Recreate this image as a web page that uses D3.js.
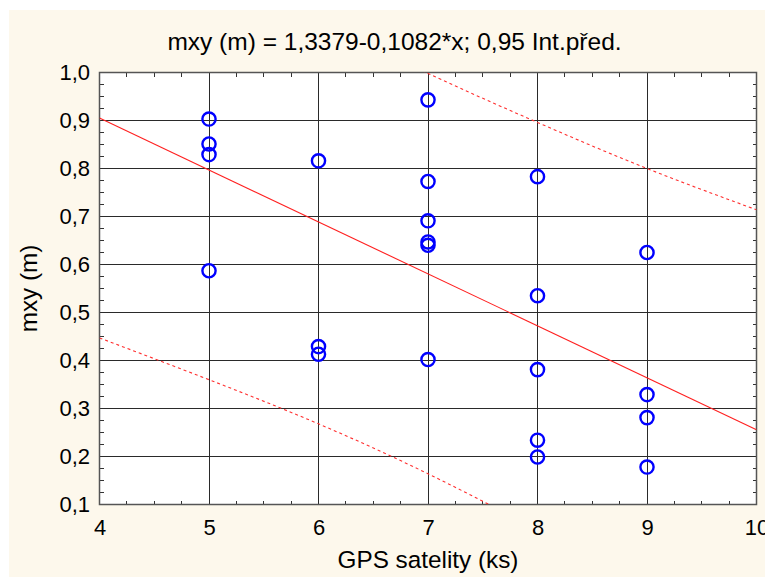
<!DOCTYPE html>
<html><head><meta charset="utf-8">
<script src="https://cdn.jsdelivr.net/npm/d3@7"></script>
<style>html,body{margin:0;padding:0;background:#fff}svg{display:block}text{font-family:"Liberation Sans",Arial,sans-serif;fill:#000}</style>
</head><body>
<script>
// Data
const satX = [5,5,5,5, 6,6,6, 7,7,7,7,7,7, 8,8,8,8,8, 9,9,9,9];
const mxyY = [0.903,0.851,0.829,0.587, 0.816,0.429,0.413, 0.943,0.773,0.691,0.647,0.640,0.402, 0.783,0.535,0.381,0.234,0.199, 0.625,0.329,0.281,0.178];
const intercept = 1.3379, slope = -0.1082;
const bandX = [4,5,6,7,8,9,10];
const bandUpper = [1.363,1.234,1.110,0.998,0.896,0.800,0.714];
const bandLower = [0.447,0.360,0.268,0.164,0.048,-0.072,-0.202];
const xTicks = [4,5,6,7,8,9,10];
const yTicks = [0.1,0.2,0.3,0.4,0.5,0.6,0.7,0.8,0.9,1.0];
const titleText = "mxy (m) = 1,3379-0,1082*x; 0,95 Int.před.";
const xTitle = "GPS satelity (ks)";
const yTitle = "mxy (m)";

const W = 765, H = 577;
const L = 99.5, R = 756.5, T = 72.5, B = 504.5;
const svg = d3.select("body").append("svg").attr("width", W).attr("height", H);
svg.append("rect").attr("width", W).attr("height", H).attr("fill", "#fff");
svg.append("rect").attr("x", 9).attr("y", 10).attr("width", W - 9).attr("height", H - 10).attr("fill", "#fdf8ec");

const x = d3.scaleLinear().domain([4, 10]).range([L, R]);
const y = d3.scaleLinear().domain([0.1, 1.0]).range([B, T]);

svg.append("rect").attr("x", L).attr("y", T).attr("width", R - L).attr("height", B - T).attr("fill", "#fff");

svg.append("defs").append("clipPath").attr("id", "clip")
  .append("rect").attr("x", L).attr("y", T).attr("width", R - L).attr("height", B - T);

// grid
const grid = svg.append("g").attr("stroke", "#2a2a2a").attr("stroke-width", 1).attr("shape-rendering", "crispEdges");
xTicks.slice(1, -1).forEach(v => grid.append("line").attr("x1", x(v)).attr("x2", x(v)).attr("y1", T).attr("y2", B));
yTicks.slice(1, -1).forEach(v => grid.append("line").attr("y1", y(v)).attr("y2", y(v)).attr("x1", L).attr("x2", R));

// minor ticks (inside, all 4 sides)
const minor = svg.append("g").attr("stroke", "#333").attr("stroke-width", 1).attr("shape-rendering", "crispEdges");
const minX = d3.range(4, 10.001, 0.25).filter(v => Math.abs(v - Math.round(v)) > 1e-6);
const minY = d3.range(0.1, 1.0001, 0.025).filter(v => Math.abs(v * 10 - Math.round(v * 10)) > 1e-6);
const tl = 4;
minX.forEach(v => {
  minor.append("line").attr("x1", x(v)).attr("x2", x(v)).attr("y1", B).attr("y2", B - tl);
  minor.append("line").attr("x1", x(v)).attr("x2", x(v)).attr("y1", T).attr("y2", T + tl);
});
minY.forEach(v => {
  minor.append("line").attr("y1", y(v)).attr("y2", y(v)).attr("x1", L).attr("x2", L + tl);
  minor.append("line").attr("y1", y(v)).attr("y2", y(v)).attr("x1", R).attr("x2", R - tl);
});

// frame
svg.append("rect").attr("x", L).attr("y", T).attr("width", R - L).attr("height", B - T)
  .attr("fill", "none").attr("stroke", "#555").attr("stroke-width", 1.5);

// lines
const plot = svg.append("g").attr("clip-path", "url(#clip)");
plot.append("line").attr("x1", x(4)).attr("y1", y(intercept + slope * 4))
  .attr("x2", x(10)).attr("y2", y(intercept + slope * 10))
  .attr("stroke", "#ff2020").attr("stroke-width", 1.1);
const band = d3.line().x((d, i) => x(bandX[i])).y(d => y(d)).curve(d3.curveNatural);
[bandUpper, bandLower].forEach(arr => plot.append("path").attr("d", band(arr))
  .attr("fill", "none").attr("stroke", "#ff3030").attr("stroke-width", 1.1).attr("stroke-dasharray", "3,3"));

// points
svg.append("g").selectAll("circle").data(satX).join("circle")
  .attr("cx", d => x(d)).attr("cy", (d, i) => y(mxyY[i])).attr("r", 6.6)
  .attr("fill", "none").attr("stroke", "#0000ff").attr("stroke-width", 2.4);

// axes labels
const fmt = v => d3.format(".1f")(v).replace(".", ",");
const ya = svg.append("g").attr("transform", `translate(${L},0)`)
  .call(d3.axisLeft(y).tickValues(yTicks).tickFormat(fmt).tickSize(0).tickPadding(9.5));
const xa = svg.append("g").attr("transform", `translate(0,${B})`)
  .call(d3.axisBottom(x).tickValues(xTicks).tickFormat(d3.format("d")).tickSize(0).tickPadding(15));
[ya, xa].forEach(g => {
  g.select(".domain").remove();
  g.selectAll("text").attr("font-size", 22).attr("font-family", "Liberation Sans, Arial, sans-serif").attr("fill", "#000");
});

svg.append("text").attr("x", 394.5).attr("y", 50).attr("text-anchor", "middle").attr("font-size", 24.5).text(titleText);
svg.append("text").attr("x", (L + R) / 2).attr("y", 568).attr("text-anchor", "middle").attr("font-size", 24.3).text(xTitle);
svg.append("text").attr("transform", `translate(37,${(T + B) / 2}) rotate(-90)`).attr("text-anchor", "middle").attr("font-size", 24.3).text(yTitle);
</script>
</body></html>
